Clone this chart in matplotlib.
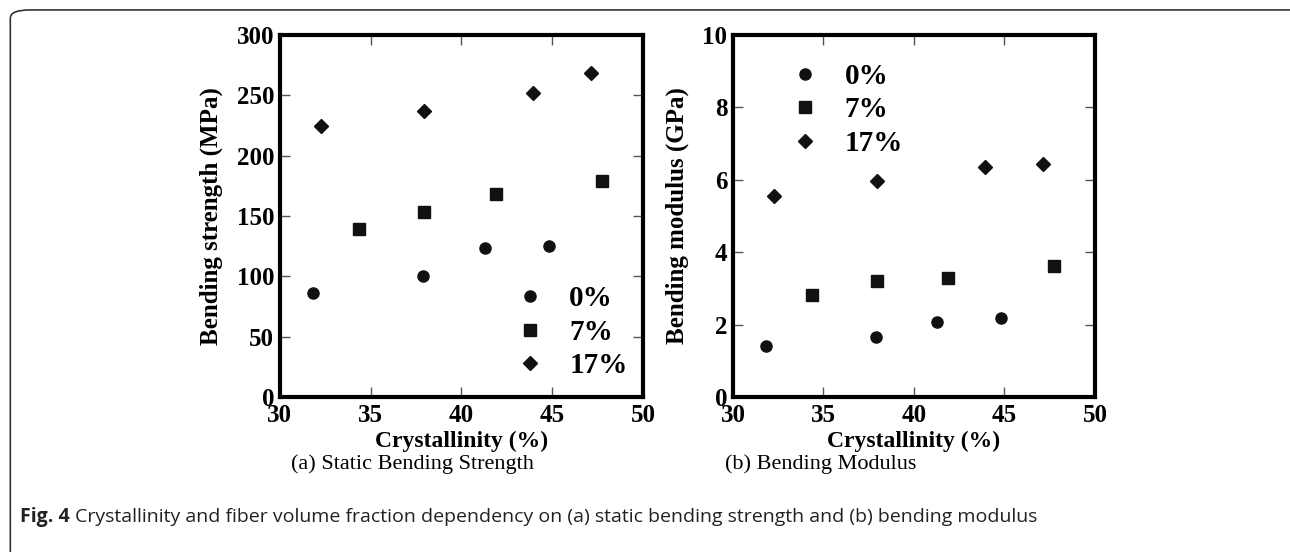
import matplotlib
matplotlib.use("Agg")
import matplotlib.pyplot as plt
from matplotlib.patches import FancyBboxPatch
from matplotlib.lines import Line2D

plt.rcParams['font.family'] = ['Liberation Serif', 'DejaVu Serif']

# Crystallinity (%) for each fiber volume fraction
groups = ['0%', '7%', '17%']
markers = ['o', 's', 'D']
msizes = [8, 8.5, 7.2]

x_0 = [31.8, 37.9, 41.3, 44.8]
x_7 = [34.35, 37.93, 41.9, 47.72]
x_17 = [32.25, 37.95, 43.92, 47.12]

# (a) static bending strength (MPa)
strength_0 = [86, 100.5, 123.5, 124.8]
strength_7 = [139.6, 153.4, 168.2, 179.4]
strength_17 = [224.8, 236.8, 252.3, 268.8]

# (b) bending modulus (GPa)
modulus_0 = [1.40, 1.66, 2.06, 2.18]
modulus_7 = [2.83, 3.20, 3.29, 3.63]
modulus_17 = [5.55, 5.98, 6.35, 6.43]

xs = [x_0, x_7, x_17]

fig = plt.figure(figsize=(12.9, 5.52), dpi=100)

ax1 = fig.add_axes([0.217, 0.2808, 0.2814, 0.6558])
ax2 = fig.add_axes([0.5682, 0.2808, 0.2806, 0.6558])


def style(ax, ylim, yticks, ylabel):
    ax.set_xlim(30, 50)
    ax.set_ylim(*ylim)
    ax.set_xticks([30, 35, 40, 45, 50])
    ax.set_yticks(yticks)
    for s in ax.spines.values():
        s.set_linewidth(3)
        s.set_color('black')
    ax.tick_params(direction='in', length=7, width=1, color='#555555',
                   top=True, right=True, labelsize=18)
    ax.tick_params(axis='y', pad=4)
    ax.tick_params(axis='x', pad=5)
    for lab in ax.get_xticklabels() + ax.get_yticklabels():
        lab.set_fontweight('bold')
    ax.set_xlabel('Crystallinity (%)', fontsize=17, fontweight='bold', labelpad=3)
    ax.set_ylabel(ylabel, fontsize=18, fontweight='bold', labelpad=10)


def legend(ax, loc, anchor):
    handles = [Line2D([], [], linestyle='none', marker=m, markersize=ms,
                      color='#111111') for m, ms in zip(markers, msizes)]
    ax.legend(handles, groups, loc=loc, bbox_to_anchor=anchor, frameon=False,
              prop={'weight': 'bold', 'size': 21}, handlelength=1.0,
              handletextpad=0.85, labelspacing=0.22, borderaxespad=0)


for x, y, m, ms in zip(xs, [strength_0, strength_7, strength_17], markers, msizes):
    ax1.plot(x, y, linestyle='none', marker=m, markersize=ms, color='#111111')
style(ax1, (0, 300), [0, 50, 100, 150, 200, 250, 300], 'Bending strength (MPa)')
legend(ax1, 'lower right', (0.99, 0.017))

for x, y, m, ms in zip(xs, [modulus_0, modulus_7, modulus_17], markers, msizes):
    ax2.plot(x, y, linestyle='none', marker=m, markersize=ms, color='#111111')
style(ax2, (0, 10), [0, 2, 4, 6, 8, 10], 'Bending modulus (GPa)')
legend(ax2, 'upper left', (0.127, 0.955))

# sub-captions
fig.text(0.3195, 0.159, '(a) Static Bending Strength', fontsize=16,
         ha='center', va='center')
fig.text(0.6365, 0.159, '(b) Bending Modulus', fontsize=16,
         ha='center', va='center')

# figure caption
cap_font = ['Liberation Sans Narrow', 'Open Sans', 'DejaVu Sans']
t = fig.text(0.0155, 0.063, 'Fig. 4', fontsize=14, fontweight='bold',
             family=cap_font, ha='left', va='center', color='#222222')
fig.canvas.draw()
bb = t.get_window_extent()
x_next = (bb.x1 + 5) / fig.bbox.width
fig.text(x_next, 0.063,
         'Crystallinity and fiber volume fraction dependency on (a) static bending '
         'strength and (b) bending modulus',
         fontsize=14, family=cap_font, ha='left', va='center', color='#222222')

# frame around the figure (open on the right/bottom as in the page crop)
frame = FancyBboxPatch((0.008, -0.2), 1.2, 1.182,
                       boxstyle='round,pad=0,rounding_size=0.015',
                       transform=fig.transFigure, fill=False,
                       edgecolor='#333333', linewidth=1.2, clip_on=False)
fig.patches.append(frame)

fig.savefig('out.png', dpi=100)
